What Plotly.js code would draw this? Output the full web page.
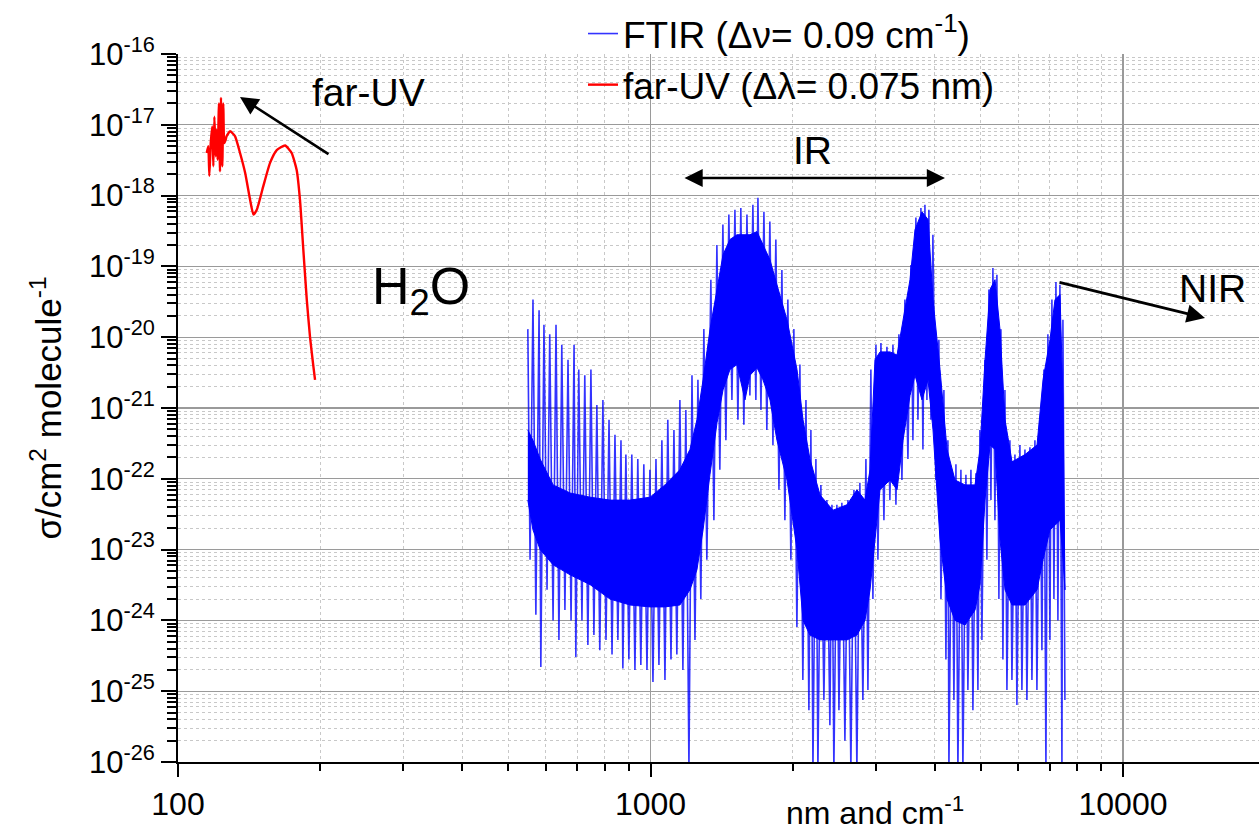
<!DOCTYPE html>
<html><head><meta charset="utf-8">
<script src="https://cdn.plot.ly/plotly-3.0.1.min.js"></script>
<style>html,body{margin:0;padding:0;background:#fff;}#chart{width:1259px;height:833px;}</style>
</head><body><div id="chart"></div>
<script>
// ---- FTIR spectrum (wavenumber, cm-1) : dense core envelope ----
const ftirCoreX=[550,564,584,622,676,745,821,905,998,1073,1154,1212,1254,1292,1336,1383,1424,1473,1524,1585,1624,1680,1730,1790,1852,1945,2042,2103,2175,2285,2433,2606,2735,2844,2915,2986,3060,3213,3325,3423,3542,3629,3755,3867,3962,4100,4242,4411,4631,4862,4982,5105,5231,5360,5492,5628,5823,6203,6577,6772,7006,7179,7357,7465,7537];
const ftirCoreHi=[4.9e-22,3.5e-22,1.9e-22,8.2e-23,6.3e-23,5.5e-23,5e-23,5e-23,5.5e-23,8.2e-23,1.34e-22,2.6e-22,6.8e-22,2.5e-21,1.27e-20,4.7e-20,1.46e-19,2.4e-19,2.8e-19,2.8e-19,2.8e-19,3.1e-19,2.0e-19,1.24e-19,5.5e-20,1.76e-20,3.5e-21,6.8e-22,1.9e-22,5.9e-23,3.6e-23,4.3e-23,7e-23,5e-23,1.34e-22,4.8e-21,6.2e-21,6.2e-21,5.6e-21,1.76e-20,6.5e-20,3.3e-19,5.9e-19,4.6e-19,3.4e-20,3.5e-21,2.6e-22,9.6e-23,8.2e-23,8.2e-23,2.6e-22,4.8e-21,4.7e-20,6.5e-20,1.27e-20,6.8e-22,1.74e-22,2.2e-22,3e-22,2.5e-21,9.2e-21,3.4e-20,4e-20,1.3e-21,3.7e-24];
const ftirCoreLo=[5e-23,1.9e-23,1e-23,6.1e-24,4.4e-24,3.2e-24,2e-24,1.65e-24,1.55e-24,1.55e-24,1.65e-24,2.7e-24,5.2e-24,1.9e-23,1.14e-22,6.2e-22,1.8e-21,3.5e-21,4.1e-21,1.3e-21,2.9e-21,3.7e-21,2.5e-21,1.3e-21,3.5e-22,9.6e-23,1e-23,1e-24,6.2e-25,5.3e-25,5.3e-25,5.3e-25,6.2e-25,1e-24,2.7e-24,1.37e-23,7e-23,9.6e-23,7e-23,3.5e-22,1.5e-21,2.9e-21,1.3e-21,2.5e-21,4.9e-22,1.37e-23,2e-24,1e-24,8.6e-25,1.4e-24,3.2e-24,5e-23,3.0e-22,2.6e-22,1.37e-23,2.7e-24,1.65e-24,1.65e-24,2.7e-24,7.2e-24,1.9e-23,2.2e-23,2.6e-23,7.2e-24,2.7e-24];

// ---- FTIR spectrum: individual line spikes (alternating maxima / minima) ----
const ftirX=[550,556,564,572,581,586,595,604,612,622,631,640,649,659,669,679,689,695,705,716,726,737,748,759,770,781,793,805,817,829,841,853,866,874,887,900,913,927,940,954,968,983,997,1012,1027,1042,1057,1073,1088,1105,1121,1137,1154,1171,1188,1206,1224,1242,1260,1278,1297,1316,1342,1362,1382,1402,1423,1444,1465,1487,1509,1531,1553,1576,1600,1623,1647,1671,1688,1713,1738,1763,1789,1816,1842,1870,1897,1925,1953,1982,2011,2041,2071,2101,2133,2164,2185,2207,2239,2261,2294,2328,2362,2397,2421,2444,2480,2505,2541,2579,2617,2655,2695,2734,2774,2815,2857,2885,2927,2956,3000,3029,3074,3119,3165,3211,3259,3307,3355,3405,3455,3506,3557,3592,3645,3681,3735,3772,3809,3846,3883,3922,3960,4018,4077,4118,4178,4219,4260,4281,4344,4387,4430,4473,4539,4583,4651,4696,4766,4812,4883,4931,4979,5028,5102,5152,5202,5254,5305,5357,5409,5462,5516,5570,5625,5680,5763,5820,5906,5963,6051,6110,6201,6261,6353,6416,6510,6574,6670,6736,6802,6869,6935,7004,7072,7142,7212,7282,7353,7426,7462,7535];
const ftirY=[1.3e-20,7.2e-24,3.4e-20,1.2e-24,2.4e-20,2.2e-25,1.5e-20,2.7e-24,1.1e-20,1.0e-24,
1.5e-20,5.3e-25,7.8e-21,1.4e-24,4.8e-21,1.0e-24,7.8e-21,3.05e-25,3.5e-21,1.0e-24,
2.9e-21,4.5e-25,3.5e-21,6.2e-25,1.1e-21,3.8e-25,1.3e-21,5.3e-25,6.8e-22,3.3e-25,
4.2e-22,5.3e-25,3.5e-22,2.1e-25,2.2e-22,2.8e-25,2.2e-22,2.0e-25,1.9e-22,2.35e-25,
1.6e-22,2.0e-25,1.34e-22,1.35e-25,1.9e-22,2.35e-25,3.5e-22,1.44e-25,6.8e-22,2.8e-25,
4.9e-22,3.3e-25,1.3e-21,2.0e-25,9.4e-22,8e-27,2.9e-21,5.3e-25,2.5e-21,2.0e-24,
1.3e-20,7.2e-24,6.5e-20,2.6e-23,2.0e-19,1.34e-22,3.9e-19,3.5e-22,5.4e-19,1.3e-21,
6.3e-19,6.8e-22,6.7e-19,5.8e-22,5.4e-19,1.5e-21,7.4e-19,1.3e-21,9.3e-19,9.4e-22,
5.9e-19,4.9e-22,4.3e-19,3.0e-22,2.4e-19,7.0e-23,8.9e-20,2.6e-23,3.4e-20,7.2e-24,
1.3e-20,8.1e-25,4.1e-21,1.44e-25,1.3e-21,5.4e-26,4.9e-22,8e-27,1.9e-22,8e-27,
8.2e-23,7.5e-26,5.0e-23,3.3e-26,4.3e-23,8e-27,4.3e-23,5.4e-26,4.6e-23,2.0e-26,
5.0e-23,8e-27,7.0e-23,8e-27,8.8e-23,7.5e-26,1.9e-22,1.04e-25,3.5e-21,2.0e-24,
7.8e-21,7.2e-24,8.3e-21,2.6e-23,7.3e-21,5.0e-23,7.8e-21,4.3e-23,1.1e-20,9.6e-23,
3.4e-20,1.9e-22,1.05e-19,3.5e-22,4.9e-19,6.8e-22,6.7e-19,2.6e-22,7.4e-19,1.3e-21,
6.3e-19,6.8e-22,2.8e-19,9.6e-23,9.2e-21,2.0e-24,1.8e-21,2.8e-25,3.5e-22,8e-27,
1.34e-22,7.5e-26,1.6e-22,8e-27,1.34e-22,8e-27,1.14e-22,1.04e-25,1.34e-22,5.4e-26,
1.2e-22,1.04e-25,4.9e-22,5.3e-25,4.8e-21,7.2e-24,4.7e-20,5.0e-23,9.5e-20,2.6e-23,
7.6e-20,2.0e-24,1.3e-20,2.8e-25,1.8e-21,1.04e-25,3.5e-22,1.44e-25,2.2e-22,6.4e-26,
3.0e-22,1.04e-25,2.6e-22,7.5e-26,2.8e-22,1.44e-25,3.5e-22,1.04e-25,6.8e-22,3.8e-25,
3.5e-21,8e-27,1.1e-20,5.3e-25,3.4e-20,2.0e-24,6.0e-20,1.0e-24,5.5e-20,8e-27,
1.76e-20,7.5e-26];

// ---- far-UV spectrum (wavelength, nm) ----
const uvX=[115.0,115.9,116.5,117.3,118.2,118.8,119.4,120.2,120.7,121.3,122.1,122.7,123.3,124.1,124.7,125.3,126.2,126.7,128.9,132.0,135.3,138.7,142.1,144.4,146.8,151.5,156.6,161.8,168.5,174.0,178.3,181.2,184.2,187.3,190.3,193.4,195.0];
const uvY=[4e-18,5e-18,1.9e-18,5.5e-18,9.5e-18,2.6e-18,1.3e-17,3.6e-18,8.5e-18,3.2e-18,2.0e-17,2.2e-18,2.4e-17,2.6e-18,2.0e-17,5.5e-18,6.2e-18,6.9e-18,8.1e-18,6.9e-18,4e-18,2.1e-18,8.7e-19,5.4e-19,6.3e-19,1.35e-18,2.9e-18,4.4e-18,5.1e-18,4e-18,2.3e-18,8.7e-19,1.7e-19,3.4e-20,1.0e-20,3.9e-21,2.5e-21];

// ---- tick labels ----
const xTickVals=[100,1000,10000];
const xTickText=['100','1000','10000'];
const yTickExps=[-26,-25,-24,-23,-22,-21,-20,-19,-18,-17,-16];
const yTickVals=yTickExps.map(e=>Math.pow(10,e));
const yTickText=yTickExps.map(e=>'10<sup>'+e+'</sup>');

const legendNames=['FTIR (Δν= 0.09 cm<sup>-1</sup>)','far-UV (Δλ= 0.075 nm)'];

// minor tick positions (2..9 x decade)
const xMinor=[]; [100,1000].forEach(d=>{for(let m=2;m<=9;m++) xMinor.push(m*d);});
const yMinor=[]; yTickExps.slice(0,-1).forEach(e=>{for(let m=2;m<=9;m++) yMinor.push(m*Math.pow(10,e));});

// layout geometry
const W=1259,H=833,ML=178,MR=0,MT=54,MB=71;
const PW=W-ML-MR, PH=H-MT-MB;
const px=x=>(x-ML)/PW, py=y=>(H-MB-y)/PH;

const traces=[
 {x:ftirCoreX.concat(ftirCoreX.slice().reverse()), y:ftirCoreHi.concat(ftirCoreLo.slice().reverse()),
  type:'scatter', mode:'lines', fill:'toself', fillcolor:'#0000ff',
  line:{color:'#0000ff', width:1}, showlegend:false, hoverinfo:'skip'},
 {x:ftirX, y:ftirY, type:'scatter', mode:'lines', name:legendNames[0], legendgroup:'a',
  line:{color:'rgba(0,0,255,0.8)', width:1.6}},
 {x:uvX, y:uvY, type:'scatter', mode:'lines', name:legendNames[1], legendgroup:'b',
  line:{color:'#ff0000', width:2.4, shape:'spline', smoothing:0.5}}
];

const axisCommon={
 ticks:'outside', tickwidth:2, tickcolor:'#000', showline:true, linecolor:'#000', linewidth:2,
 showgrid:true, gridcolor:'#9a9a9a', gridwidth:1.3, zeroline:false, automargin:false,
 tickmode:'array'
};
const minorCommon={tickmode:'array', ticks:'outside', tickwidth:2, tickcolor:'#000',
 showgrid:true, gridcolor:'#c8c8c8', griddash:'dot', gridwidth:1};

const txt=(x,y,t,s)=>({xref:'paper', yref:'paper', x:px(x), y:py(y), text:t, showarrow:false,
  xanchor:'center', yanchor:'middle', font:{size:s}});
const arr=(x,y,ax,ay,both)=>Object.assign({xref:'paper', yref:'paper', x:px(x), y:py(y), text:'',
  showarrow:true, ax:ax, ay:ay, arrowhead:2, arrowsize:1.4, arrowwidth:2.6, arrowcolor:'#000'},
  both?{arrowside:'end+start', startarrowhead:2, startarrowsize:1.4}:{});

const layout={
 width:W, height:H,
 margin:{l:ML, r:MR, t:MT, b:MB, autoexpand:false},
 paper_bgcolor:'#fff', plot_bgcolor:'#fff',
 font:{family:'Liberation Sans, Arial, sans-serif', color:'#000'},
 showlegend:true,
 legend:{x:px(583), y:py(3), xanchor:'left', yanchor:'top', font:{size:37},
  bgcolor:'rgba(0,0,0,0)', tracegroupgap:6, traceorder:'normal'},
 xaxis:Object.assign({}, axisCommon, {type:'log', range:[2, 2+PW/472.5],
  tickvals:xTickVals, ticktext:xTickText, ticklen:13, tickfont:{size:32},
  minor:Object.assign({}, minorCommon, {tickvals:xMinor, ticklen:7})}),
 yaxis:Object.assign({}, axisCommon, {type:'log', range:[-26,-16],
  tickvals:yTickVals, ticktext:yTickText, ticklen:15, tickfont:{size:31},
  title:{text:'σ/cm<sup>2</sup> molecule<sup>-1</sup>', font:{size:35}, standoff:17},
  minor:Object.assign({}, minorCommon, {tickvals:yMinor, ticklen:9})}),
 annotations:[
  txt(875,811,'nm and cm<sup>-1</sup>',32),
  txt(368,92,'far-UV',39),
  arr(240,97,90,58,false),
  txt(812,150,'IR',39),
  arr(945,178,-262,0,true),
  txt(421,290,'H<sub>2</sub>O',52),
  txt(1212,288,'NIR',39),
  arr(1205,318,-147,-36,false)
 ]
};

Plotly.newPlot('chart', traces, layout, {staticPlot:true, displayModeBar:false});
</script>
</body></html>
